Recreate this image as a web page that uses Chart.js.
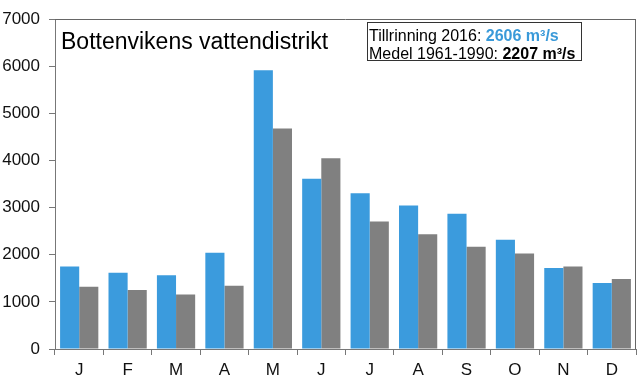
<!DOCTYPE html>
<html>
<head>
<meta charset="utf-8">
<script src="https://cdn.jsdelivr.net/npm/chart.js@4"></script>
<style>
  html, body { margin: 0; padding: 0; background: #fff; }
  #wrap { position: relative; width: 639px; height: 390px; overflow: hidden; }
  canvas { position: absolute; left: 0; top: 0; }
  .txt { position: absolute; font-family: "Liberation Sans", Arial, sans-serif; color: #000; white-space: nowrap; }
  #title { left: 61px; top: 30px; font-size: 23px; line-height: 23px; }
  #box { position: absolute; left: 367px; top: 22px; width: 215px; height: 39px; box-sizing: border-box; border: 1px solid #333; background: #fff; }
  #l1 { left: 369px; top: 27px; font-size: 16px; line-height: 18px; }
  #l2 { left: 369px; top: 45px; font-size: 16px; line-height: 18px; }
  .blue { color: #3a9ad9; font-weight: bold; }
  .bold { font-weight: bold; }
</style>
</head>
<body>
<div id="wrap">
  <canvas id="c" width="639" height="390"></canvas>
  <div id="title" class="txt">Bottenvikens vattendistrikt</div>
  <div id="box"></div>
  <div id="l1" class="txt">Tillrinning 2016: <span class="blue">2606 m³/s</span></div>
  <div id="l2" class="txt">Medel 1961-1990: <span class="bold">2207 m³/s</span></div>
</div>
<script>
const months = ['J','F','M','A','M','J','J','A','S','O','N','D'];
const flow2016 = [1750, 1620, 1565, 2045, 5915, 3615, 3305, 3045, 2870, 2320, 1720, 1400];
const mean1961_1990 = [1320, 1250, 1155, 1345, 4680, 4050, 2705, 2435, 2170, 2025, 1750, 1485];
const yMin = 0;
const yMax = 7000;
const yStep = 1000;

const FONT = '"Liberation Sans", Arial, sans-serif';

const framePlugin = {
  id: 'frame',
  afterDraw(chart) {
    const { ctx, chartArea: a } = chart;
    ctx.save();
    ctx.strokeStyle = '#666';
    ctx.lineWidth = 1;
    ctx.beginPath();
    ctx.moveTo(a.left, Math.round(a.top) + 0.5);
    ctx.lineTo(a.right, Math.round(a.top) + 0.5);
    ctx.moveTo(Math.round(a.right) - 0.5, a.top);
    ctx.lineTo(Math.round(a.right) - 0.5, a.bottom);
    ctx.stroke();
    ctx.restore();
  }
};

new Chart(document.getElementById('c'), {
  type: 'bar',
  data: {
    labels: months,
    datasets: [
      { label: 'Tillrinning 2016', data: flow2016, backgroundColor: '#3b9bdd', borderWidth: 0 },
      { label: 'Medel 1961-1990', data: mean1961_1990, backgroundColor: '#808080', borderWidth: 0 }
    ]
  },
  options: {
    responsive: false,
    animation: false,
    devicePixelRatio: 1,
    layout: { padding: { top: 18, right: 3, left: 0, bottom: 0 } },
    datasets: { bar: { categoryPercentage: 0.79, barPercentage: 1.0 } },
    plugins: { legend: { display: false }, title: { display: false }, tooltip: { enabled: false } },
    scales: {
      x: {
        grid: { display: true, drawOnChartArea: false, drawTicks: true, tickLength: 6, color: '#777', offset: true },
        border: { color: '#777', width: 1 },
        ticks: { font: { family: FONT, size: 17 }, color: '#111', padding: 5, maxRotation: 0 },
        afterFit(s) { s.height = 41; }
      },
      y: {
        min: yMin, max: yMax,
        grid: { display: true, drawOnChartArea: false, drawTicks: true, tickLength: 6, color: '#777' },
        border: { color: '#777', width: 1 },
        ticks: { stepSize: yStep, font: { family: FONT, size: 17 }, color: '#111', padding: 9,
                 callback: (v) => String(v) },
        afterFit(s) { s.width = 55; }
      }
    }
  },
  plugins: [framePlugin]
});
</script>
</body>
</html>
